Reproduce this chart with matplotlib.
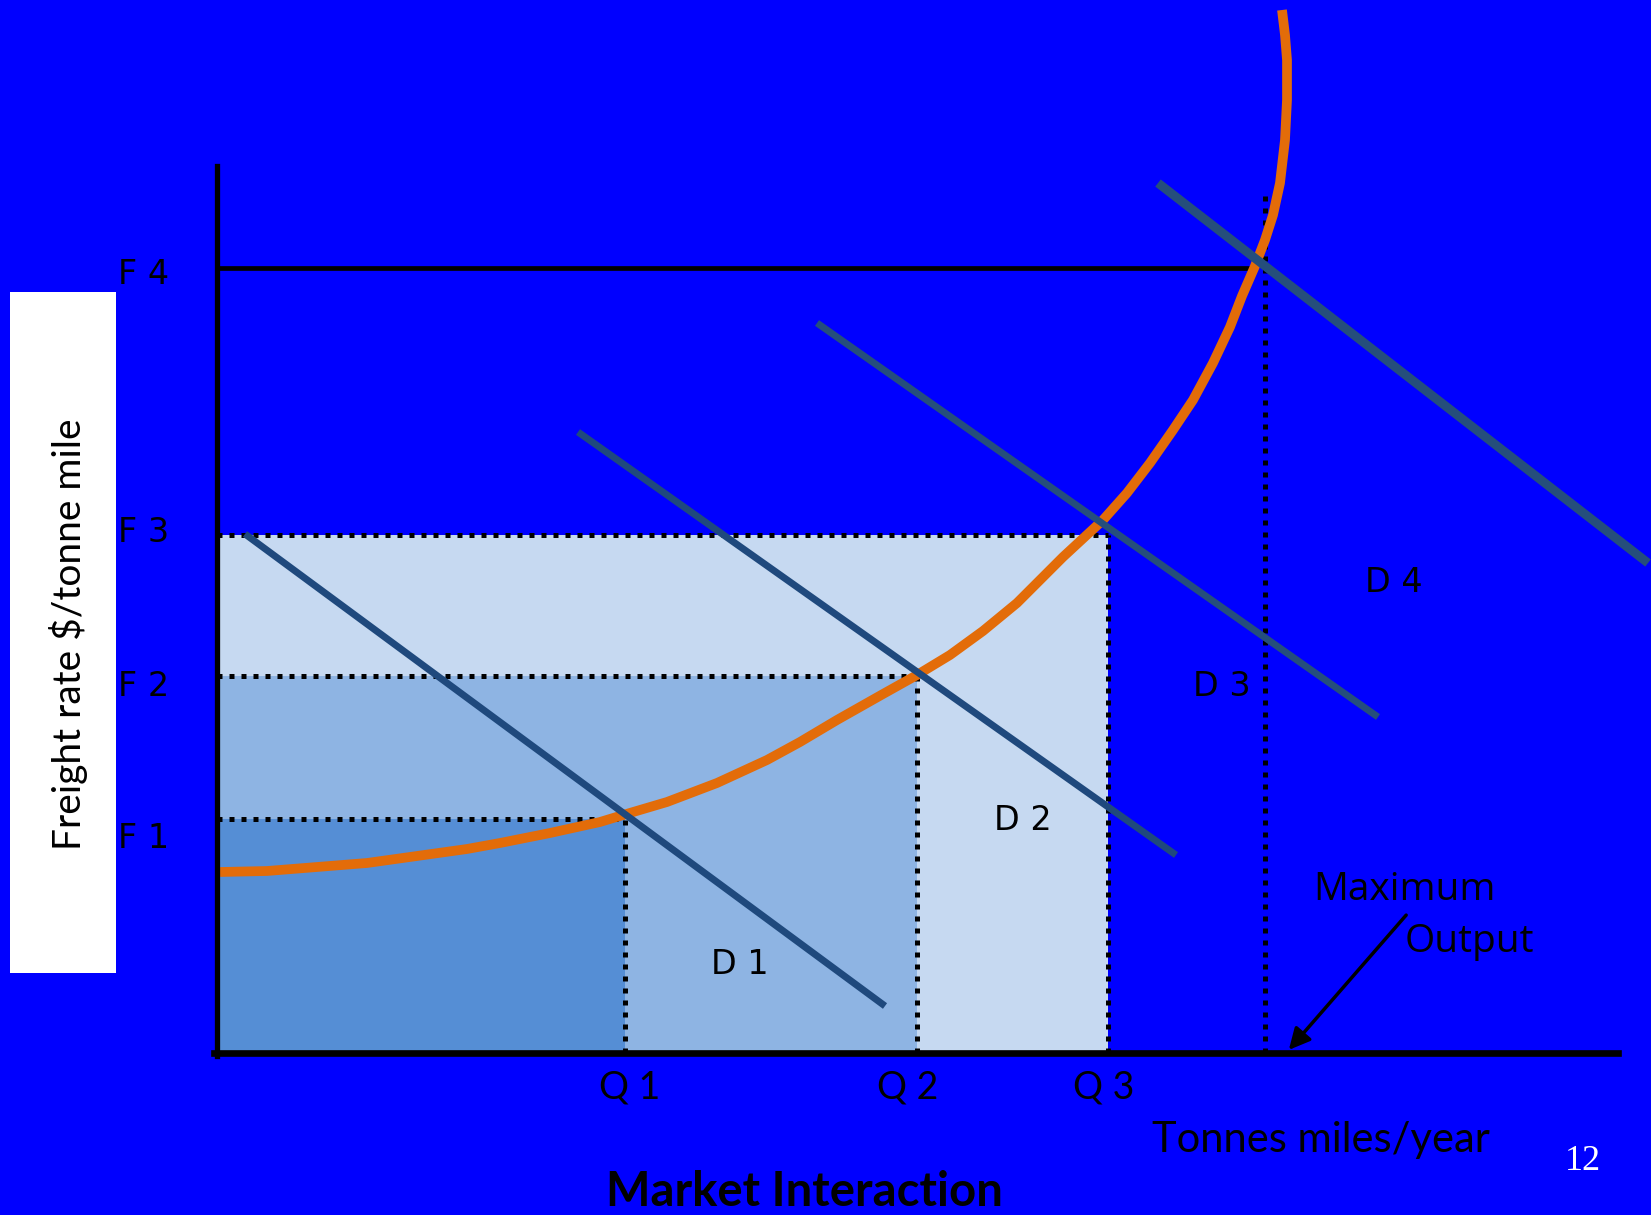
import matplotlib
matplotlib.use("Agg")
import matplotlib.pyplot as plt
from matplotlib.patches import Rectangle

# quantity and freight rate levels (chart units, origin at the axes corner)
q_labels = ["Q 1", "Q 2", "Q 3"]
q_levels = [408, 700, 891]
q_label_x = [413, 691, 887]
q_max = 1048
f_labels = ["F 1", "F 2", "F 3", "F 4"]
f_levels = [234, 377, 518, 785]
f_label_y = [214, 367, 521, 778]

# supply curve
supply_x = [3, 50, 100, 150, 200, 250, 283, 333, 383, 406, 450, 500, 550, 583,
            620, 666, 700, 733, 766, 800, 833, 846, 886, 910, 933, 956, 976,
            996, 1013, 1025, 1038, 1048, 1056, 1063, 1068, 1070, 1070, 1068, 1065]
supply_y = [181, 182, 186, 190, 197, 204, 210, 220, 231, 238, 251, 270, 293, 311,
            333, 359, 378, 398, 422, 450, 483, 496, 533, 560, 590, 623, 653,
            690, 726, 757, 787, 813, 838, 870, 913, 953, 993, 1018, 1043]

# demand lines: (x0, y0, x1, y1)
demand_names = ["D 1", "D 2", "D 3", "D 4"]
demand_lines = [(28, 519, 668, 47),
                (361, 621, 959, 198),
                (600, 730, 1161, 336),
                (941, 870, 1431, 490)]
demand_label_pos = [(523, 89), (806, 232), (1005, 367), (1177, 470)]

fill_colors = ["#558ED5", "#8EB4E3", "#C6D9F1"]

fig = plt.figure(figsize=(16.51, 12.15), dpi=100)
fig.patch.set_facecolor("#0000FF")
ax = fig.add_axes([0, 0, 1, 1])
ax.set_xlim(-217, 1434)
ax.set_ylim(-162, 1053)
ax.axis("off")

# shaded revenue areas, biggest first
for q, f, c in reversed(list(zip(q_levels, f_levels[:3], fill_colors))):
    ax.add_patch(Rectangle((0, 0), q, f, facecolor=c, edgecolor="none", zorder=1))

dot = dict(color="black", lw=3.6, linestyle=(0, (1, 1.4)), dash_capstyle="butt", zorder=2)
for q, f in zip(q_levels, f_levels[:3]):
    ax.plot([0, q], [f, f], **dot)
    ax.plot([q, q], [0, f], **dot)
ax.plot([q_max, q_max], [0, 862], **dot)

# F4 line
ax.plot([0, 1036], [f_levels[3], f_levels[3]], color="black", lw=3.4, zorder=2)

# supply
ax.plot(supply_x, supply_y, color="#E36C09", lw=7, solid_capstyle="butt",
        solid_joinstyle="round", zorder=3)

# demand
d_colors = ["#1F497D", "#1F497D", "#254E7C", "#254E7C"]
d_widths = [5.0, 5.0, 5.0, 6.5]
for (x0, y0, x1, y1), c, w in zip(demand_lines, d_colors, d_widths):
    ax.plot([x0, x1], [y0, y1], color=c, lw=w, solid_capstyle="butt", zorder=4)

# axes
ax.plot([0, 0], [-3, 887], color="black", lw=3.8, zorder=5)
ax.plot([-3, 1401], [0, 0], color="black", lw=4.8, zorder=5)

# y label box
ax.add_patch(Rectangle((-207.5, 80), 106.5, 681, facecolor="white", edgecolor="none", zorder=1))
ax.text(-149, 419, "Freight rate $/tonne mile", rotation=90, ha="center", va="center",
        fontsize=28, family="Lato", color="black")

for lab, y in zip(f_labels, f_label_y):
    ax.text(-73, y, lab, ha="center", va="center", fontsize=24, family="DejaVu Sans")
for lab, (x, y) in zip(demand_names, demand_label_pos):
    ax.text(x, y, lab, ha="center", va="center", fontsize=24, family="DejaVu Sans", zorder=6)
for lab, x in zip(q_labels, q_label_x):
    ax.text(x, -34, lab, ha="center", va="center", fontsize=27, family="Lato")

ax.text(1104, -87, "Tonnes miles/year", ha="center", va="center", fontsize=30, family="Lato")
ax.text(587, -139, "Market Interaction", ha="center", va="center", fontsize=34,
        family="Lato", fontweight="bold")
ax.text(1366, -108, "12", ha="center", va="center", fontsize=26,
        family="Liberation Serif", color="white")

ax.text(1096, 153, "Maximum", ha="left", va="baseline", fontsize=28, family="Open Sans")
ax.text(1188, 101, "Output", ha="left", va="baseline", fontsize=28, family="Open Sans")
ax.annotate("", xy=(1070, 1), xytext=(1191, 140),
            arrowprops=dict(arrowstyle="-|>", color="black", lw=2.5, mutation_scale=32),
            zorder=6)

plt.savefig("out.png", dpi=100, facecolor=fig.get_facecolor())
